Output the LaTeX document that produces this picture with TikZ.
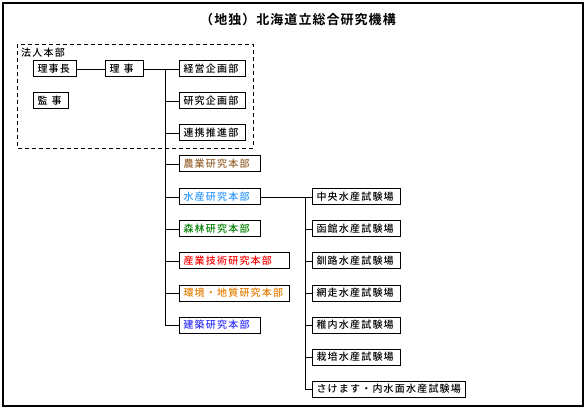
\documentclass[tikz,border=0pt]{standalone}
\usepackage{fontspec}
\setmainfont{Noto Sans CJK JP}[BoldFont={* Bold}]
\newfontfamily\jpmed{Noto Sans CJK JP}[UprightFont={* Medium}]
\usetikzlibrary{positioning}
\definecolor{agriC}{RGB}{153,102,51}
\definecolor{fishC}{RGB}{51,153,255}
\definecolor{forC}{RGB}{0,128,0}
\definecolor{indC}{RGB}{255,0,0}
\definecolor{envC}{RGB}{230,126,0}
\definecolor{bldC}{RGB}{51,51,255}

\begin{document}
\begin{tikzpicture}[x=1pt, y=-1pt,
  box/.style={draw, line width=1pt, anchor=west, minimum height=16pt,
              inner xsep=4pt, inner ysep=0pt, align=left,
              font=\jpmed\fontsize{10}{12}\selectfont\addfontfeatures{LetterSpace=12}},
  bs/.style={box, text width=27pt},
  bm/.style={box, text width=58pt},
  bh/.style={box, text width=73pt},
  bl/.style={box, text width=102pt},
  br/.style={box, text width=80pt},
  bx/.style={box, text width=145pt},
  con/.style={line width=0.8pt},
  hq/.style={line width=0.9pt, dash pattern=on 4pt off 3pt},
]
\useasboundingbox (0,0) rectangle (588,411);
\draw[line width=2pt] (3,3) rectangle (583,406);

% ---------------- title ----------------
\node[font=\bfseries\fontsize{13}{15}\selectfont\addfontfeatures{LetterSpace=8}] (title) at (298,20) {（地独）北海道立総合研究機構};

% ---------------- head office ----------------
\draw[hq] (17,44) rectangle (253,148);
\node[anchor=west, inner sep=0pt, font=\jpmed\fontsize{10}{12}\selectfont\addfontfeatures{LetterSpace=12}] (hqlab) at (21,53) {法人本部};
\node[bm, text width=35pt] (chair) at (33,69) {理事長};
\node[bs, text width=30pt] (riji)  at (105,69) {理\hspace{4pt}事};
\node[bs]  (kanji) at (33,101) {監\hspace{4pt}事};
\node[bm] (keiei) at (179,69)  {経営企画部};
\node[bm] (kenkyu) at (179,101) {研究企画部};
\node[bm] (renkei) at (179,133) {連携推進部};

% ---------------- research headquarters ----------------
\node[bh, text=agriC] (agri) at (179,164) {農業研究本部};
\node[bh, text=fishC] (fish) at (179,197) {水産研究本部};
\node[bh, text=forC]  (forest) at (179,229) {森林研究本部};
\node[bl, text=indC]  (ind) at (179,261) {産業技術研究本部};
\node[bl, text=envC]  (env) at (179,293) {環境・地質研究本部};
\node[bh, text=bldC]  (bld) at (179,325) {建築研究本部};

% ---------------- fisheries stations ----------------
\node[br] (chuo)   at (312,197) {中央水産試験場};
\node[br] (hakodate) at (312,229) {函館水産試験場};
\node[br] (kushiro) at (312,261) {釧路水産試験場};
\node[br] (abashiri) at (312,293) {網走水産試験場};
\node[br] (wakkanai) at (312,325) {稚内水産試験場};
\node[br] (saibai) at (312,357) {栽培水産試験場};
\node[bx] (sake)   at (312,389) {さけます・内水面水産試験場};

% ---------------- connectors ----------------
\coordinate (trunk) at (165,69);
\coordinate (trunkb) at (165,325);
\coordinate (fbus) at (305,197);
\draw[con] (chair) -- (riji);
\draw[con] (riji) -- (keiei);
\draw[con] (trunk) -- (trunkb);
\foreach \n in {kenkyu,renkei,agri,fish,forest,ind,env,bld}
  \draw[con] (trunk |- \n.west) -- (\n.west);
\draw[con] (fish) -- (chuo);
\draw[con] (fbus) -- (fbus |- sake.west);
\foreach \n in {hakodate,kushiro,abashiri,wakkanai,saibai,sake}
  \draw[con] (fbus |- \n.west) -- (\n.west);

\end{tikzpicture}
\end{document}
